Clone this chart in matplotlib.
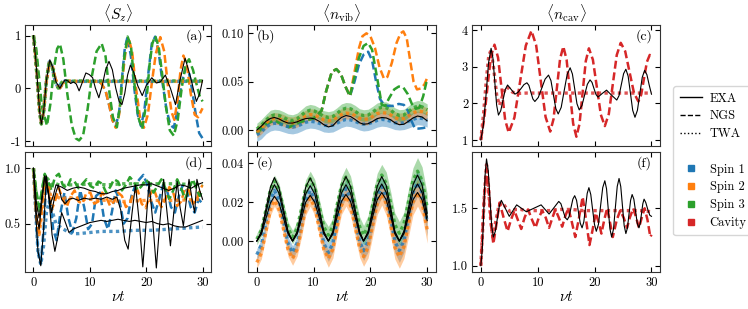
import numpy as np
import matplotlib
matplotlib.use('Agg')
import matplotlib.pyplot as plt
from matplotlib.lines import Line2D

plt.rcParams.update({
    'font.family': 'serif',
    'font.serif': ['cmr10', 'DejaVu Serif'],
    'mathtext.fontset': 'cm',
    'axes.unicode_minus': False,
    'font.size': 9,
})

# ---------------- data ----------------
# panel (a) <S_z>
a_exa_t = [0, 0.4, 0.8, 1.1, 1.4, 1.8, 2.3, 2.9, 3.4, 4.0, 4.7, 5.1, 5.6, 6.1, 6.6, 7.1, 7.6, 8.1, 8.7, 9.3,
           9.9, 10.5, 11.0, 11.6, 12.2, 12.8, 13.4, 14.0, 14.6, 15.2, 15.7, 16.2, 16.7, 17.2, 17.8, 18.5, 19.3,
           20.0, 21.0, 21.8, 22.5, 23.4, 24.3, 25.2, 26.0, 26.9, 27.9, 28.9, 29.5, 30.0]
a_exa_y = [1.0, 0.55, 0.0, -0.45, -0.68, -0.45, 0.15, 0.54, 0.4, 0.12, 0.0, 0.08, 0.16, 0.14, 0.09, 0.12, 0.08,
           -0.05, 0.12, 0.29, 0.26, 0.2, 0.0, -0.18, 0.05, 0.35, 0.51, 0.35, 0.0, -0.25, -0.31, -0.1, 0.25, 0.44,
           0.3, 0.05, -0.14, 0.05, 0.2, 0.1, 0.12, 0.25, 0.0, -0.31, 0.15, 0.57, 0.2, -0.25, -0.1, 0.15]
a_ngs3_t = [0, 0.5, 1.0, 1.5, 2.4, 3.0, 3.6, 4.2, 4.7, 5.3, 6.0, 6.8, 7.5, 8.1, 8.8, 9.6, 10.4, 11.2, 12.1, 12.8,
            13.5, 14.1, 14.8, 15.4, 16.0, 16.7, 17.3, 17.9, 18.6, 19.3, 20.0, 20.6, 21.1, 21.6, 22.2, 22.8, 23.5,
            24.2, 24.9, 25.6, 26.3, 27.0, 27.6, 28.3, 29.0, 29.5, 30.0]
a_ngs3_y = [1.0, 0.75, 0.2, -0.35, -0.71, -0.3, 0.35, 0.75, 0.84, 0.55, -0.1, -0.7, -0.95, -0.99, -0.9, -0.4, 0.25,
            0.7, 0.85, 0.6, -0.1, -0.55, -0.74, -0.3, 0.5, 0.98, 0.8, 0.1, -0.55, -0.77, -0.3, 0.45, 0.85, 0.99,
            0.8, 0.3, -0.35, -0.8, -0.9, -0.6, 0.0, 0.45, 0.55, 0.35, 0.05, -0.15, -0.25]
a_ngs2_t = [0, 0.4, 0.8, 1.1, 1.4, 1.8, 2.3, 2.9, 3.4, 4.0, 4.7, 5.5, 7.0, 9.0, 11.0, 12.0, 12.8, 13.5, 14.0, 14.6,
            15.2, 15.8, 16.4, 16.9, 17.5, 18.2, 18.9, 19.6, 20.3, 21.0, 21.7, 22.5, 23.2, 23.9, 24.5, 25.0, 25.6,
            26.1, 26.6, 27.2, 27.9, 28.6, 29.2, 30.0]
a_ngs2_y = [1.0, 0.55, 0.0, -0.45, -0.68, -0.45, 0.15, 0.5, 0.4, 0.15, 0.0, 0.12, 0.13, 0.13, 0.13, 0.1, -0.05,
            -0.35, -0.6, -0.75, -0.5, 0.2, 0.75, 0.94, 0.7, 0.0, -0.55, -0.75, -0.5, 0.1, 0.65, 0.97, 0.7, 0.0,
            -0.45, -0.6, -0.2, 0.35, 0.62, 0.45, -0.1, -0.5, -0.55, -0.38]
a_ngs1_t = [0, 0.4, 0.8, 1.1, 1.4, 1.8, 2.3, 2.9, 3.4, 4.0, 4.7, 5.5, 7.0, 9.0, 11.0, 12.0, 12.8, 13.5, 14.0, 14.6,
            15.2, 15.8, 16.2, 16.7, 17.3, 18.0, 18.5, 19.1, 19.7, 20.4, 21.0, 21.6, 22.2, 22.9, 23.6, 24.3, 24.9,
            25.6, 26.3, 27.0, 27.5, 28.1, 28.8, 29.4, 30.0]
a_ngs1_y = [1.0, 0.55, 0.0, -0.45, -0.68, -0.45, 0.15, 0.5, 0.4, 0.15, 0.0, 0.12, 0.13, 0.13, 0.13, 0.1, -0.05,
            -0.35, -0.6, -0.72, -0.45, 0.3, 0.75, 0.98, 0.6, -0.1, -0.5, -0.72, -0.4, 0.3, 0.85, 0.98, 0.7, 0.1,
            -0.4, -0.7, -0.75, -0.4, 0.1, 0.38, 0.35, 0.0, -0.5, -0.85, -0.95]
a_twa_t = [0, 0.4, 0.8, 1.1, 1.4, 1.8, 2.3, 2.8, 3.3, 3.8, 4.4, 5.0, 5.6, 6.5, 8.0, 30.0]
a_twa1_y = [1.0, 0.55, 0.0, -0.45, -0.66, -0.45, 0.15, 0.5, 0.42, 0.15, 0.0, 0.1, 0.14, 0.13, 0.13, 0.13]
a_twa2_y = [1.0, 0.55, 0.0, -0.45, -0.66, -0.45, 0.12, 0.48, 0.45, 0.2, 0.02, 0.08, 0.13, 0.14, 0.13, 0.13]
a_twa3_y = [1.0, 0.55, 0.0, -0.45, -0.68, -0.45, 0.15, 0.52, 0.42, 0.12, 0.0, 0.11, 0.15, 0.13, 0.14, 0.14]

# shared time grid for (b) and (e)
tg = [0, 0.8, 1.6, 2.4, 3.1, 3.9, 4.7, 5.5, 6.3, 7.1, 7.9, 8.6, 9.4, 10.2, 11.0, 11.8, 12.6, 13.4, 14.1, 14.9,
      15.7, 16.5, 17.3, 18.1, 18.8, 19.6, 20.4, 21.2, 22.0, 22.8, 23.6, 24.3, 25.1, 25.9, 26.7, 27.5, 28.3, 29.1, 30.0]

# panel (b) <n_vib>
b_exa = [0.0, 0.004, 0.009, 0.012, 0.013, 0.0115, 0.009, 0.0072, 0.0072, 0.0085, 0.0105, 0.0118, 0.0124, 0.0115,
         0.009, 0.0055, 0.0032, 0.0045, 0.009, 0.013, 0.015, 0.014, 0.011, 0.0075, 0.006, 0.0065, 0.009, 0.0118,
         0.013, 0.0125, 0.0105, 0.0075, 0.0055, 0.006, 0.009, 0.0125, 0.0145, 0.0135, 0.0095]
b_twa1 = [-0.005, -0.002, 0.003, 0.006, 0.007, 0.0065, 0.005, 0.0035, 0.003, 0.004, 0.006, 0.008, 0.009, 0.0085,
          0.007, 0.005, 0.0045, 0.005, 0.007, 0.0095, 0.011, 0.0105, 0.009, 0.007, 0.006, 0.0065, 0.008, 0.01, 0.011,
          0.0105, 0.009, 0.0075, 0.007, 0.0075, 0.009, 0.011, 0.0125, 0.012, 0.01]
b_twa2 = [-0.002, 0.002, 0.007, 0.011, 0.012, 0.0115, 0.01, 0.008, 0.0075, 0.009, 0.012, 0.0145, 0.016, 0.0155,
          0.013, 0.0105, 0.0095, 0.0105, 0.013, 0.016, 0.0175, 0.017, 0.015, 0.012, 0.011, 0.0115, 0.014, 0.017,
          0.018, 0.0175, 0.0155, 0.013, 0.0115, 0.012, 0.0145, 0.0175, 0.0195, 0.019, 0.017]
b_twa3 = [0.001, 0.005, 0.01, 0.0145, 0.0155, 0.015, 0.013, 0.0105, 0.0098, 0.0115, 0.0155, 0.019, 0.0205, 0.0195,
          0.017, 0.014, 0.013, 0.014, 0.017, 0.021, 0.0225, 0.022, 0.0195, 0.016, 0.015, 0.0155, 0.0185, 0.022,
          0.0235, 0.023, 0.0205, 0.017, 0.015, 0.0155, 0.019, 0.023, 0.0245, 0.024, 0.021]
b_sd1, b_sd2, b_sd3 = 0.007, 0.006, 0.006
b_ngs1_t = [0, 1.6, 3.1, 4.7, 5.7, 7.1, 8.6, 10.0, 11.4, 12.2, 13.2, 14.0, 14.8, 15.6, 16.4, 17.2, 18.0, 18.8, 19.6,
            20.3, 21.0, 21.7, 22.3, 23.0, 24.0, 25.0, 25.9, 26.6, 27.2, 27.8, 28.5, 29.2, 30.0]
b_ngs1_y = [-0.003, 0.006, 0.01, 0.005, 0.003, 0.007, 0.01, 0.012, 0.02, 0.04, 0.06, 0.063, 0.058, 0.045, 0.035,
            0.05, 0.068, 0.078, 0.081, 0.072, 0.05, 0.032, 0.027, 0.025, 0.025, 0.027, 0.026, 0.02, 0.01, 0.002,
            0.0015, 0.002, 0.003]
b_ngs2_t = [0, 1.6, 3.1, 4.7, 5.7, 7.1, 8.6, 10.0, 11.4, 12.2, 13.2, 14.0, 14.8, 15.6, 16.4, 17.2, 18.0, 18.6, 19.3,
            20.0, 20.8, 21.6, 22.4, 23.0, 23.8, 24.6, 25.3, 25.8, 26.4, 27.0, 27.6, 28.2, 28.9, 29.5, 30.0]
b_ngs2_y = [-0.003, 0.006, 0.01, 0.005, 0.003, 0.007, 0.01, 0.012, 0.02, 0.04, 0.06, 0.063, 0.058, 0.045, 0.035,
            0.06, 0.085, 0.097, 0.1, 0.097, 0.085, 0.065, 0.053, 0.055, 0.07, 0.09, 0.1, 0.102, 0.095, 0.072, 0.05,
            0.042, 0.043, 0.047, 0.054]
b_ngs3_t = [0, 1.6, 3.1, 4.7, 5.7, 7.1, 8.6, 10.0, 11.4, 12.2, 13.2, 14.0, 14.8, 15.6, 16.4, 17.2, 18.0, 18.8, 19.6,
            20.3, 21.0, 21.6, 22.0, 22.6, 23.3, 24.2, 25.0, 25.8, 26.6, 27.3, 28.0, 28.6, 29.3, 30.0]
b_ngs3_y = [-0.003, 0.006, 0.01, 0.005, 0.003, 0.007, 0.01, 0.012, 0.02, 0.04, 0.06, 0.063, 0.058, 0.045, 0.035,
            0.055, 0.075, 0.087, 0.09, 0.083, 0.06, 0.04, 0.026, 0.025, 0.033, 0.042, 0.045, 0.044, 0.037, 0.027,
            0.022, 0.023, 0.035, 0.053]

# panel (c) <n_cav>
c_exa_t = [0, 0.45, 0.9, 1.35, 1.8, 2.13, 2.45, 2.78, 3.1, 3.5, 3.9, 4.3, 4.7, 5.35, 6.0, 6.53, 7.05, 7.58, 8.1,
           8.45, 8.8, 9.15, 9.5, 10.1, 10.7, 11.3, 11.9, 12.33, 12.75, 13.18, 13.6, 14.13, 14.65, 15.18, 15.7,
           16.1, 16.5, 16.9, 17.3, 17.78, 18.25, 18.73, 19.2, 19.55, 19.9, 20.25, 20.6, 21.35, 22.1, 23.0, 23.9,
           24.3, 24.7, 25.1, 25.5, 25.9, 26.3, 26.7, 27.1, 27.53, 27.95, 28.38, 28.8, 29.2, 29.6, 30.0]
c_exa_y = [1.0, 1.4, 2.2, 3.1, 3.5, 3.23, 2.59, 1.95, 1.68, 1.8, 2.09, 2.38, 2.5, 2.375, 2.25, 2.3, 2.4, 2.51, 2.56,
           2.49, 2.3, 2.12, 2.05, 2.16, 2.41, 2.66, 2.77, 2.62, 2.24, 1.86, 1.71, 1.89, 2.34, 2.79, 2.97, 2.8, 2.4,
           1.99, 1.82, 1.94, 2.23, 2.52, 2.64, 2.57, 2.4, 2.24, 2.17, 2.27, 2.36, 2.22, 2.09, 2.21, 2.51, 2.81,
           2.93, 2.74, 2.28, 1.81, 1.62, 1.81, 2.26, 2.71, 2.9, 2.78, 2.5, 2.25]
c_ngs_t = [0, 0.6, 1.2, 1.8, 2.4, 3.025, 3.65, 4.275, 4.9, 5.9, 6.9, 7.9, 8.9, 9.73, 10.55, 11.38, 12.2, 12.78,
           13.35, 13.93, 14.5, 15.08, 15.65, 16.23, 16.8, 17.35, 17.9, 18.45, 19.0, 19.7, 20.4, 21.1, 21.8, 22.5,
           23.2, 23.9, 24.6, 25.38, 26.15, 26.93, 27.7, 28.2, 28.7, 29.2, 29.7, 30.0]
c_ngs_y = [1.0, 1.6, 2.5, 3.3, 3.6, 3.25, 2.4, 1.55, 1.2, 1.61, 2.59, 3.57, 3.98, 3.58, 2.6, 1.63, 1.23, 1.57, 2.39,
           3.21, 3.55, 3.19, 2.32, 1.45, 1.09, 1.44, 2.3, 3.15, 3.5, 3.19, 2.44, 1.69, 1.38, 1.71, 2.52, 3.32, 3.65,
           3.42, 2.85, 2.28, 2.05, 2.24, 2.69, 3.13, 3.32, 3.28]
c_twa_t = [0, 0.5, 1.0, 1.4, 1.8, 2.3, 2.8, 3.3, 3.8, 4.4, 5.0, 5.6, 6.5, 8.0, 30.0]
c_twa_y = [1.0, 1.75, 2.7, 3.3, 3.45, 2.9, 2.2, 1.95, 2.2, 2.45, 2.4, 2.3, 2.27, 2.28, 2.28]

# panel (d) spin purity
d_exa1_t = [0, 0.4, 0.8, 1.3, 1.8, 2.3, 2.8, 3.3, 3.8, 4.4, 5.0, 5.6, 6.3, 7.0, 8, 9, 10, 11, 12, 13, 14, 15, 16,
            17, 18, 19, 20, 21, 22, 23, 24, 25, 26, 27, 28, 29, 30]
d_exa1_y = [1.0, 0.6, 0.25, 0.12, 0.45, 0.93, 0.7, 0.4, 0.25, 0.4, 0.6, 0.52, 0.42, 0.45, 0.47, 0.49, 0.51, 0.52,
            0.53, 0.52, 0.53, 0.54, 0.53, 0.52, 0.53, 0.52, 0.51, 0.52, 0.5, 0.49, 0.5, 0.48, 0.47, 0.47, 0.49, 0.51,
            0.53]
d_exa2_t = [0, 0.5, 1.0, 1.5, 2.0, 2.6, 3.2, 3.8, 4.4, 5.0, 5.6, 6.3, 7, 8, 9, 10, 11, 12, 13, 14.0, 14.8, 15.5,
            16.2, 16.8, 17.5, 18.1, 18.8, 19.4, 19.9, 20.5, 21.2, 21.8, 22.4, 23.1, 23.7, 24.3, 24.9, 25.5, 26.0,
            26.6, 27.1, 27.6, 28.2, 28.6, 29.0, 29.5, 30.0]
d_exa2_y = [1.0, 0.6, 0.45, 0.7, 0.93, 0.8, 0.6, 0.75, 0.85, 0.72, 0.68, 0.72, 0.73, 0.71, 0.73, 0.72, 0.73, 0.72,
            0.74, 0.72, 0.74, 0.62, 0.35, 0.27, 0.6, 0.85, 0.5, 0.11, 0.45, 0.88, 0.5, 0.1, 0.5, 0.9, 0.6, 0.3, 0.6,
            0.88, 0.65, 0.48, 0.7, 0.9, 0.7, 0.6, 0.9, 0.8, 0.72]
d_exa3_t = [0, 0.5, 1.0, 1.5, 2.0, 2.5, 3.0, 3.5, 4.0, 5, 6, 7, 8, 9, 10, 11, 12, 13, 14, 15, 16, 17, 18, 19, 20,
            21, 22, 23, 24, 25, 26, 27, 28, 29, 30]
d_exa3_y = [1.0, 0.7, 0.55, 0.75, 0.93, 0.8, 0.68, 0.75, 0.85, 0.83, 0.8, 0.82, 0.83, 0.82, 0.8, 0.79, 0.77, 0.77,
            0.79, 0.8, 0.82, 0.83, 0.84, 0.85, 0.85, 0.86, 0.84, 0.82, 0.8, 0.82, 0.85, 0.84, 0.82, 0.85, 0.87]
d_twa1_t = [0, 0.4, 0.8, 1.3, 1.8, 2.3, 2.8, 3.4, 4.0, 5.0, 6.0, 7.0, 8.0, 10, 12, 15, 18, 21, 24, 27, 30]
d_twa1_y = [1.0, 0.6, 0.25, 0.13, 0.3, 0.6, 0.7, 0.6, 0.5, 0.46, 0.43, 0.41, 0.41, 0.42, 0.43, 0.43, 0.44, 0.44,
            0.45, 0.46, 0.47]
d_twa23_t = [0, 0.5, 1.0, 1.5, 2.0, 2.6, 3.2, 4.0, 5.0, 6.0, 8, 10, 13, 16, 20, 25, 30]
d_twa2_y = [1.0, 0.6, 0.4, 0.6, 0.88, 0.85, 0.72, 0.75, 0.72, 0.74, 0.72, 0.72, 0.71, 0.7, 0.71, 0.71, 0.72]
d_twa3_y = [1.0, 0.75, 0.62, 0.78, 0.93, 0.9, 0.85, 0.86, 0.84, 0.85, 0.85, 0.86, 0.85, 0.86, 0.86, 0.86, 0.85]
d_ngs1_t = [0, 0.4, 0.8, 1.3, 1.8, 2.3, 2.9, 3.5, 4.1, 4.8, 5.5, 6.2, 6.9, 7.6, 8.3, 9.0, 9.7, 10.4, 11.1, 11.8,
            12.5, 13.2, 13.9, 14.6, 15.3, 16.0, 16.7, 17.4, 18.1, 18.8, 19.5, 20.2, 20.9, 21.6, 22.3, 23.0, 23.7,
            24.4, 25.1, 25.8, 26.5, 27.2, 27.9, 28.6, 29.3, 30.0]
d_ngs1_y = [1.0, 0.6, 0.25, 0.14, 0.45, 0.9, 0.75, 0.45, 0.35, 0.6, 0.78, 0.55, 0.42, 0.55, 0.8, 0.65, 0.45, 0.5,
            0.75, 0.78, 0.55, 0.45, 0.6, 0.8, 0.7, 0.5, 0.55, 0.75, 0.85, 0.9, 0.94, 0.85, 0.7, 0.6, 0.72, 0.85, 0.8,
            0.65, 0.6, 0.75, 0.85, 0.8, 0.65, 0.6, 0.72, 0.68]
d_ngs23_t = [0, 0.5, 1.0, 1.5, 2.0, 2.6, 3.2, 3.8, 4.5, 5.2, 5.9, 6.6, 7.3, 8.0, 8.7, 9.4, 10.1, 10.8, 11.5, 12.2,
             12.9, 13.6, 14.3, 15.0, 15.7, 16.4, 17.1, 17.8, 18.5, 19.2, 19.9, 20.6, 21.3, 22.0, 22.7, 23.4, 24.1,
             24.8, 25.5, 26.2, 26.9, 27.6, 28.3, 29.0, 29.5, 30.0]
d_ngs2_y = [1.0, 0.55, 0.42, 0.65, 0.92, 0.85, 0.62, 0.7, 0.82, 0.72, 0.65, 0.75, 0.8, 0.7, 0.68, 0.78, 0.78, 0.68,
            0.7, 0.78, 0.74, 0.66, 0.7, 0.78, 0.75, 0.65, 0.68, 0.78, 0.8, 0.68, 0.64, 0.75, 0.82, 0.72, 0.65, 0.72,
            0.83, 0.78, 0.66, 0.7, 0.82, 0.8, 0.68, 0.72, 0.8, 0.85]
d_ngs3_y = [1.0, 0.8, 0.65, 0.8, 0.95, 0.88, 0.8, 0.92, 0.95, 0.85, 0.82, 0.9, 0.88, 0.82, 0.86, 0.9, 0.84, 0.82,
            0.88, 0.86, 0.78, 0.83, 0.9, 0.88, 0.8, 0.85, 0.92, 0.88, 0.8, 0.84, 0.9, 0.86, 0.78, 0.84, 0.9, 0.82,
            0.72, 0.8, 0.9, 0.82, 0.72, 0.82, 0.9, 0.8, 0.75, 0.8]

# panel (e) spin vibration
e_exa_top = [0, 0.0049, 0.0164, 0.0278, 0.0327, 0.0276, 0.0163, 0.0049, 0, 0.0049, 0.0163, 0.0276, 0.0325, 0.0277,
             0.0166, 0.005, 0, 0.005, 0.0166, 0.0282, 0.0332, 0.0282, 0.0166, 0.005, 0, 0.005, 0.0166, 0.0282,
             0.0332, 0.0285, 0.0168, 0.0051, 0, 0.0051, 0.017, 0.0289, 0.034, 0.0289, 0.0143]
e_exa_mid = [0, 0.0044, 0.0145, 0.0247, 0.029, 0.0247, 0.0145, 0.0044, 0, 0.0043, 0.0142, 0.0242, 0.0285, 0.0242,
             0.0143, 0.0043, 0, 0.0044, 0.0145, 0.0247, 0.029, 0.0247, 0.0146, 0.0044, 0, 0.0044, 0.0147, 0.025,
             0.0294, 0.025, 0.0147, 0.0044, 0, 0.0044, 0.0147, 0.025, 0.0294, 0.025, 0.0123]
e_exa_low = [0, 0.0035, 0.0115, 0.0196, 0.023, 0.0196, 0.0117, 0.0035, 0, 0.0035, 0.0118, 0.02, 0.0235, 0.02,
             0.012, 0.0036, 0, 0.0036, 0.012, 0.0204, 0.024, 0.0204, 0.0123, 0.0037, 0, 0.0037, 0.0125, 0.0212,
             0.025, 0.0212, 0.0125, 0.0037, 0, 0.0037, 0.0125, 0.0212, 0.025, 0.0212, 0.0105]
e_twa1 = [-0.007, -0.002, 0.0095, 0.021, 0.026, 0.0212, 0.01, -0.0012, -0.006, -0.0012, 0.01, 0.0212, 0.026,
          0.0212, 0.01, -0.0012, -0.006, -0.001, 0.0105, 0.022, 0.027, 0.0222, 0.011, -0.0002, -0.005, 0.0, 0.0115,
          0.023, 0.028, 0.023, 0.0115, 0.0, -0.005, 0.0002, 0.0125, 0.0248, 0.03, 0.0248, 0.0097]
e_twa2 = [-0.011, -0.0062, 0.005, 0.0162, 0.021, 0.0165, 0.006, -0.0045, -0.009, -0.0043, 0.0065, 0.0173, 0.022,
          0.0173, 0.0065, -0.0043, -0.009, -0.0042, 0.007, 0.0182, 0.023, 0.0184, 0.0075, -0.0034, -0.008, -0.0032,
          0.008, 0.0192, 0.024, 0.0192, 0.008, -0.0032, -0.008, -0.003, 0.0085, 0.02, 0.025, 0.02, 0.0059]
e_twa3 = [0.001, 0.0055, 0.016, 0.0265, 0.031, 0.0267, 0.0165, 0.0064, 0.002, 0.0065, 0.017, 0.0275, 0.032,
          0.0277, 0.0175, 0.0073, 0.003, 0.0075, 0.018, 0.0285, 0.033, 0.0285, 0.018, 0.0075, 0.003, 0.0077, 0.0185,
          0.0294, 0.034, 0.0295, 0.019, 0.0085, 0.004, 0.0088, 0.02, 0.0312, 0.036, 0.0312, 0.0174]
e_sd = [0.003, 0.003, 0.003, 0.003, 0.003, 0.003, 0.0035, 0.0035, 0.0035, 0.0035, 0.004, 0.004, 0.004, 0.004,
        0.004, 0.004, 0.0045, 0.0045, 0.0045, 0.0045, 0.005, 0.005, 0.005, 0.005, 0.005, 0.0055, 0.0055, 0.0055,
        0.0055, 0.006, 0.006, 0.006, 0.006, 0.006, 0.0065, 0.0065, 0.007, 0.007, 0.007]

# panel (f) cavity
f_exa_t = [0, 0.25, 0.5, 0.75, 1.0, 1.3, 1.6, 1.9, 2.2, 2.55, 2.9, 3.25, 3.6, 4.3, 5.0, 5.65, 6.3, 7.15, 8.0, 9.3,
           10.6, 11.3, 12.0, 12.85, 13.7, 14.08, 14.45, 14.83, 15.2, 15.53, 15.85, 16.18, 16.5, 16.83, 17.15, 17.48,
           17.8, 18.1, 18.4, 18.7, 19.0, 19.33, 19.65, 19.98, 20.3, 20.68, 21.05, 21.43, 21.8, 22.1, 22.4, 22.7,
           23.0, 23.33, 23.65, 23.98, 24.3, 24.6, 24.9, 25.2, 25.5, 25.78, 26.05, 26.33, 26.6, 26.9, 27.2, 27.5,
           27.8, 28.03, 28.25, 28.48, 28.7, 29.0, 29.35, 29.7, 30.0]
f_exa_y = [1.0, 1.14, 1.46, 1.79, 1.93, 1.83, 1.59, 1.35, 1.25, 1.3, 1.41, 1.52, 1.57, 1.5, 1.43, 1.48, 1.53, 1.5,
           1.47, 1.5, 1.53, 1.49, 1.45, 1.505, 1.56, 1.54, 1.48, 1.42, 1.4, 1.43, 1.505, 1.58, 1.61, 1.57, 1.47,
           1.37, 1.33, 1.38, 1.505, 1.63, 1.68, 1.62, 1.49, 1.36, 1.3, 1.36, 1.52, 1.68, 1.74, 1.67, 1.495, 1.32,
           1.25, 1.32, 1.505, 1.69, 1.76, 1.69, 1.52, 1.35, 1.28, 1.33, 1.45, 1.57, 1.62, 1.58, 1.475, 1.37, 1.33,
           1.37, 1.455, 1.54, 1.58, 1.55, 1.49, 1.44, 1.43]
f_ngs_t = [0, 0.3, 0.6, 1.0, 1.4, 1.8, 2.2, 2.7, 3.3, 4.0, 4.7, 5.3, 5.9, 6.5, 7.1, 7.7, 8.3, 9.0, 9.6, 10.2, 10.8,
           11.4, 12.0, 12.6, 13.1, 13.7, 14.3, 14.9, 15.4, 16.0, 16.6, 17.2, 17.9, 18.5, 19.1, 19.6, 20.2, 20.7,
           21.2, 21.7, 22.2, 22.7, 23.2, 23.9, 24.5, 25.1, 25.7, 26.2, 26.8, 27.3, 27.8, 28.3, 28.8, 29.3, 29.8, 30.0]
f_ngs_y = [1.0, 1.3, 1.6, 1.85, 1.65, 1.35, 1.19, 1.35, 1.55, 1.42, 1.3, 1.4, 1.48, 1.4, 1.32, 1.42, 1.49, 1.4,
           1.33, 1.42, 1.48, 1.42, 1.33, 1.42, 1.49, 1.42, 1.34, 1.44, 1.5, 1.38, 1.25, 1.4, 1.6, 1.4, 1.18, 1.3,
           1.46, 1.38, 1.28, 1.4, 1.5, 1.38, 1.25, 1.4, 1.48, 1.42, 1.33, 1.42, 1.5, 1.42, 1.33, 1.42, 1.5, 1.4,
           1.25, 1.27]
f_twa_t = [0, 0.3, 0.6, 1.0, 1.3, 1.7, 2.1, 2.6, 3.2, 3.8, 4.5, 5.2, 6, 7, 8, 10, 12, 14, 16, 18, 20, 22, 24, 26,
           28, 30]
f_twa_y = [1.0, 1.3, 1.6, 1.88, 1.72, 1.42, 1.25, 1.38, 1.53, 1.55, 1.5, 1.47, 1.49, 1.49, 1.48, 1.48, 1.48, 1.49,
           1.49, 1.48, 1.48, 1.48, 1.48, 1.48, 1.48, 1.47]

titles = [r'$\langle S_z\rangle$', r'$\langle n_{\rm vib}\rangle$', r'$\langle n_{\rm cav}\rangle$']
panel_tags = ['(a)', '(b)', '(c)', '(d)', '(e)', '(f)']
x_ticks = [0, 10, 20, 30]
y_ticks = [[-1, 0, 1], [0, 0.05, 0.10], [1, 2, 3, 4], [0.5, 1.0], [0, 0.02, 0.04], [1.0, 1.5]]
y_ticklabels = [['-1', '0', '1'], ['0.00', '0.05', '0.10'], ['1', '2', '3', '4'],
                ['0.5', '1.0'], ['0.00', '0.02', '0.04'], ['1.0', '1.5']]
legend_labels = ['EXA', 'NGS', 'TWA', ' ', 'Spin 1', 'Spin 2', 'Spin 3', 'Cavity']

# ---------------- styling ----------------
C1, C2, C3, CR = '#1f77b4', '#ff7f0e', '#2ca02c', '#d62728'
W, H = 748, 309
fig = plt.figure(figsize=(W / 100, H / 100), dpi=100)

cols = [(25, 211), (248.3, 435.7), (472.3, 660)]
rows = [(25, 145.7), (152.3, 272.3)]
ylims = [(-1.09, 1.20), (-0.0162, 0.1086), (0.845, 4.136),
         (0.061, 1.144), (-0.0161, 0.0457), (0.9425, 1.988)]
axes = []
for r, (top, bot) in enumerate(rows):
    for c, (l, rr) in enumerate(cols):
        ax = fig.add_axes([l / W, 1 - bot / H, (rr - l) / W, (bot - top) / H])
        axes.append(ax)


def exa(ax, t, y):
    ax.plot(t, y, color='k', lw=0.8, zorder=6)


def ngs(ax, t, y, c):
    ax.plot(t, y, color=c, lw=1.8, ls=(0, (3.2, 1.5)), zorder=4)


def twa(ax, t, y, c):
    ax.plot(t, y, color=c, lw=2.4, ls=(0, (1, 1)), alpha=0.8, zorder=5)


def band(ax, t, y, sd, c):
    t = np.asarray(t); y = np.asarray(y); sd = np.asarray(sd)
    ax.fill_between(t, y - sd, y + sd, color=c, alpha=0.4, lw=0, zorder=1)


# (a)
ax = axes[0]
ngs(ax, a_ngs1_t, a_ngs1_y, C1); ngs(ax, a_ngs2_t, a_ngs2_y, C2); ngs(ax, a_ngs3_t, a_ngs3_y, C3)
twa(ax, a_twa_t, a_twa1_y, C1); twa(ax, a_twa_t, a_twa2_y, C2); twa(ax, a_twa_t, a_twa3_y, C3)
exa(ax, a_exa_t, a_exa_y)
# (b)
ax = axes[1]
band(ax, tg, b_twa1, b_sd1, C1); band(ax, tg, b_twa2, b_sd2, C2); band(ax, tg, b_twa3, b_sd3, C3)
ngs(ax, b_ngs1_t, b_ngs1_y, C1); ngs(ax, b_ngs2_t, b_ngs2_y, C2); ngs(ax, b_ngs3_t, b_ngs3_y, C3)
twa(ax, tg, b_twa1, C1); twa(ax, tg, b_twa2, C2); twa(ax, tg, b_twa3, C3)
exa(ax, tg, b_exa)
# (c)
ax = axes[2]
ngs(ax, c_ngs_t, c_ngs_y, CR)
twa(ax, c_twa_t, c_twa_y, CR)
exa(ax, c_exa_t, c_exa_y)
# (d)
ax = axes[3]
ngs(ax, d_ngs1_t, d_ngs1_y, C1); ngs(ax, d_ngs23_t, d_ngs2_y, C2); ngs(ax, d_ngs23_t, d_ngs3_y, C3)
twa(ax, d_twa1_t, d_twa1_y, C1); twa(ax, d_twa23_t, d_twa2_y, C2); twa(ax, d_twa23_t, d_twa3_y, C3)
exa(ax, d_exa1_t, d_exa1_y); exa(ax, d_exa2_t, d_exa2_y); exa(ax, d_exa3_t, d_exa3_y)
# (e)
ax = axes[4]
band(ax, tg, e_twa1, e_sd, C1); band(ax, tg, e_twa2, e_sd, C2); band(ax, tg, e_twa3, e_sd, C3)
twa(ax, tg, e_twa1, C1); twa(ax, tg, e_twa2, C2); twa(ax, tg, e_twa3, C3)
exa(ax, tg, e_exa_top); exa(ax, tg, e_exa_mid); exa(ax, tg, e_exa_low)
# (f)
ax = axes[5]
ngs(ax, f_ngs_t, f_ngs_y, CR)
twa(ax, f_twa_t, f_twa_y, CR)
exa(ax, f_exa_t, f_exa_y)

for i, ax in enumerate(axes):
    ax.set_xlim(-1.5, 31.5)
    ax.set_ylim(*ylims[i])
    ax.set_xticks(x_ticks)
    ax.set_yticks(y_ticks[i])
    ax.set_yticklabels(y_ticklabels[i])
    ax.tick_params(direction='in', top=True, right=True, length=3.5, width=0.8, labelsize=9, pad=3)
    for s in ax.spines.values():
        s.set_linewidth(0.8)
        s.set_color('#333333')
    if i < 3:
        ax.set_xticklabels([])
        ax.set_title(titles[i], fontsize=11, pad=4)
    else:
        ax.set_xticklabels([str(v) for v in x_ticks])
        ax.set_xlabel(r'$\nu t$', fontsize=11, labelpad=1)
    if i in (1, 4):
        ax.text(0.045, 0.965, panel_tags[i], transform=ax.transAxes, ha='left', va='top', fontsize=10)
    else:
        ax.text(0.958, 0.965, panel_tags[i], transform=ax.transAxes, ha='right', va='top', fontsize=10)

handles = [Line2D([], [], color='k', lw=1.0, ls='-'),
           Line2D([], [], color='k', lw=1.0, ls='--'),
           Line2D([], [], color='k', lw=1.0, ls=':'),
           Line2D([], [], color='none'),
           Line2D([], [], color=C1, ls='none', marker='s', ms=5),
           Line2D([], [], color=C2, ls='none', marker='s', ms=5),
           Line2D([], [], color=C3, ls='none', marker='s', ms=5),
           Line2D([], [], color=CR, ls='none', marker='s', ms=5)]
fig.legend(handles, legend_labels, loc='upper left', bbox_to_anchor=(667 / W, 1 - 80 / H),
           fontsize=9, handlelength=1.8, labelspacing=0.45, borderpad=0.5, handletextpad=0.6,
           frameon=True, fancybox=True, edgecolor='#cccccc')

fig.savefig('out.png', dpi=100)
